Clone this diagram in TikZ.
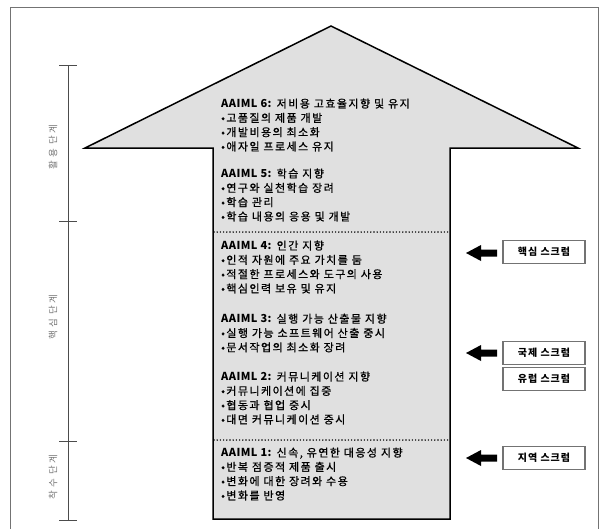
\documentclass[tikz,border=0pt]{standalone}
\usepackage{fontspec}
\setmainfont{Noto Sans CJK KR}
\newfontfamily\kr[LetterSpace=13,FakeBold=0.8]{Noto Sans CJK KR}
\newfontfamily\krh[LetterSpace=4]{Noto Sans CJK KR}
\newfontfamily\krs[LetterSpace=10]{Noto Sans CJK KR}
\newfontfamily\krst[LetterSpace=25]{Noto Sans CJK KR}
\begin{document}
\begin{tikzpicture}[x=1pt,y=-1pt,
  txt/.style={anchor=west,font=\kr\fontsize{11}{14.3}\selectfont,inner sep=0pt,align=left},
  stage/.style={rotate=90,font=\krst\fontsize{9.5}{10}\selectfont,text=black!55,inner sep=0pt},
  scrum/.style={draw=black!55,line width=1.1pt,fill=white,minimum width=82pt,minimum height=23pt,inner sep=0pt,font=\krs\bfseries\fontsize{10}{11}\selectfont},
  dots/.style={line width=1.6pt,line cap=round,dash pattern=on 0pt off 3.2pt},
  tick/.style={black!70,line width=0.9pt}]
\useasboundingbox (0,0) rectangle (608,528);
% frame
\draw[black!55,line width=0.8pt] (10,540) -- (10,7) -- (598,7) -- (598,540);
% big arrow
\coordinate (tip) at (331,26);
\filldraw[fill=black!12,draw=black,line width=1.5pt,line join=miter]
  (tip) -- (578,148) -- (450,148) -- (450,519) -- (213,519) -- (213,148) -- (85,148) -- cycle;
\coordinate (d1l) at (214,232); \coordinate (d1r) at (449,232);
\coordinate (d2l) at (214,440); \coordinate (d2r) at (449,440);
\draw[dots] (d1l) -- (d1r);
\draw[dots] (d2l) -- (d2r);
% stage axis
\coordinate (ax0) at (68,65); \coordinate (ax1) at (68,221);
\coordinate (ax2) at (68,441); \coordinate (ax3) at (68,520);
\draw[black!70,line width=1pt] (ax0) -- (ax3);
\foreach \c in {ax0,ax1,ax2,ax3} \draw[tick] ([xshift=-9pt]\c) -- ([xshift=9pt]\c);
\node[stage] (s1) at (53,147) {활용 단계};
\node[stage] (s2) at (53,317) {핵심 단계};
\node[stage] (s3) at (53,477) {착수 단계};
% texts
\node[txt] (a6) at (221,125) {{\krh\bfseries AAIML 6:} 저비용 고효율지향 및 유지\\•고품질의 제품 개발\\•개발비용의 최소화\\•애자일 프로세스 유지};
\node[txt] (a5) at (221,195) {{\krh\bfseries AAIML 5:} 학습 지향\\•연구와 실천학습 장려\\•학습 관리\\•학습 내용의 응용 및 개발};
\node[txt] (a4) at (221,267) {{\krh\bfseries AAIML 4:} 인간 지향\\•인적 자원에 주요 가치를 둠\\•적절한 프로세스와 도구의 사용\\•핵심인력 보유 및 유지};
\node[txt] (a3) at (221,333) {{\krh\bfseries AAIML 3:} 실행 가능 산출물 지향\\•실행 가능 소프트웨어 산출 중시\\•문서작업의 최소화 장려};
\node[txt] (a2) at (221,398) {{\krh\bfseries AAIML 2:} 커뮤니케이션 지향\\•커뮤니케이션에 집중\\•협동과 협업 중시\\•대면 커뮤니케이션 중시};
\node[txt] (a1) at (221,474) {{\krh\bfseries AAIML 1:} 신속, 유연한 대응성 지향\\•반복 점증적 제품 출시\\•변화에 대한 장려와 수용\\•변화를 반영};
% scrum boxes
\node[scrum] (k1) at (544,252) {핵심 스크럼};
\node[scrum] (k2) at (544,353) {국제 스크럼};
\node[scrum] (k3) at (544,379) {유럽 스크럼};
\node[scrum] (k4) at (544,458) {지역 스크럼};
\foreach \b/\yy in {k1/253,k2/353,k4/458}{
  \fill[black] (497,\yy-3.5) -- (481,\yy-3.5) -- (481,\yy-8) -- (466,\yy) -- (481,\yy+8) -- (481,\yy+3.5) -- (497,\yy+3.5) -- cycle;
}
\end{tikzpicture}
\end{document}
